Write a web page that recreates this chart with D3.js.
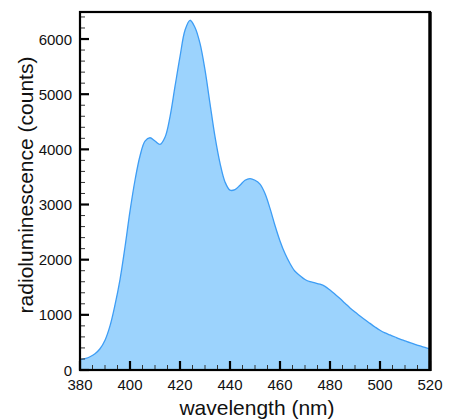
<!DOCTYPE html>
<html>
<head>
<meta charset="utf-8">
<script src="https://cdn.jsdelivr.net/npm/d3@7"></script>
<style>
  body { margin: 0; background: #fff; }
  svg text { font-family: "Liberation Sans", Arial, sans-serif; fill: #111; }
</style>
</head>
<body>
<svg id="chart" width="449" height="419"></svg>
<script>
// spectrum, every 2 nm
const wavelength = [380, 382, 384, 386, 388, 390, 392, 394, 396, 398,
  400, 402, 404, 406, 408, 410, 412, 414, 416, 418,
  420, 422, 424, 426, 428, 430, 432, 434, 436, 438,
  440, 442, 444, 446, 448, 450, 452, 454, 456, 458,
  460, 462, 464, 466, 468, 470, 472, 474, 476, 478,
  480, 482, 484, 486, 488, 490, 492, 494, 496, 498,
  500, 502, 504, 506, 508, 510, 512, 514, 516, 518, 520];
const counts = [180, 205, 240, 295, 385, 540, 800, 1180, 1640, 2230,
  2880, 3440, 3880, 4150, 4210, 4150, 4090, 4220, 4590, 5140,
  5680, 6160, 6340, 6210, 5920, 5440, 4830, 4230, 3750, 3410,
  3260, 3270, 3350, 3440, 3470, 3440, 3370, 3200, 2930, 2620,
  2340, 2110, 1930, 1790, 1710, 1640, 1600, 1580, 1555, 1515,
  1450, 1375, 1295, 1210, 1125, 1050, 980, 910, 845, 780,
  720, 672, 635, 598, 560, 528, 495, 465, 437, 410, 380];

const xTicks = [380, 400, 420, 440, 460, 480, 500, 520];
const yTicks = [0, 1000, 2000, 3000, 4000, 5000, 6000];

const svg = d3.select("#chart");
const plotL = 80, plotR = 430, plotT = 12, plotB = 370;

const x = d3.scaleLinear().domain([380, 520]).range([plotL, plotR]);
const y = d3.scaleLinear().domain([0, 6490]).range([plotB, plotT]);

const data = wavelength.map((w, i) => ({ w: w, c: counts[i] }));

svg.append("clipPath").attr("id", "plot")
  .append("rect")
  .attr("x", plotL).attr("y", plotT)
  .attr("width", plotR - plotL).attr("height", plotB - plotT);

const area = d3.area()
  .x(d => x(d.w))
  .y0(plotB)
  .y1(d => y(d.c))
  .curve(d3.curveCatmullRom);

const line = d3.line()
  .x(d => x(d.w))
  .y(d => y(d.c))
  .curve(d3.curveCatmullRom);

const g = svg.append("g").attr("clip-path", "url(#plot)");

g.append("path")
  .datum(data)
  .attr("d", area)
  .attr("fill", "#9cd3fd");

g.append("path")
  .datum(data)
  .attr("d", line)
  .attr("fill", "none")
  .attr("stroke", "#3d9df5")
  .attr("stroke-width", 1.3);

// minor ticks (inside the frame)
const xMinor = d3.range(380, 521, 5).filter(v => !xTicks.includes(v));
const yMinor = d3.range(0, 6490, 200).filter(v => !yTicks.includes(v));

svg.append("g").selectAll("line")
  .data(xMinor)
  .join("line")
  .attr("x1", d => x(d)).attr("x2", d => x(d))
  .attr("y1", plotB).attr("y2", plotB - 5)
  .attr("stroke", "#333").attr("stroke-width", 1);

svg.append("g").selectAll("line")
  .data(yMinor)
  .join("line")
  .attr("x1", plotL).attr("x2", plotL + 5)
  .attr("y1", d => y(d)).attr("y2", d => y(d))
  .attr("stroke", "#333").attr("stroke-width", 1);

// major ticks
svg.append("g").selectAll("line")
  .data(xTicks)
  .join("line")
  .attr("x1", d => x(d)).attr("x2", d => x(d))
  .attr("y1", plotB).attr("y2", plotB - 9)
  .attr("stroke", "#000").attr("stroke-width", 2.2);

svg.append("g").selectAll("line")
  .data(yTicks)
  .join("line")
  .attr("x1", plotL).attr("x2", plotL + 9)
  .attr("y1", d => y(d)).attr("y2", d => y(d))
  .attr("stroke", "#000").attr("stroke-width", 2.2);

// frame
svg.append("rect")
  .attr("x", plotL).attr("y", plotT)
  .attr("width", plotR - plotL).attr("height", plotB - plotT)
  .attr("fill", "none")
  .attr("stroke", "#000")
  .attr("stroke-width", 2.2);

svg.append("line")
  .attr("x1", plotR).attr("x2", plotR)
  .attr("y1", plotT).attr("y2", plotB + 1)
  .attr("stroke", "#000").attr("stroke-width", 3.4);

// tick labels
svg.append("g").selectAll("text")
  .data(xTicks)
  .join("text")
  .attr("x", d => x(d))
  .attr("y", plotB + 20)
  .attr("text-anchor", "middle")
  .attr("font-size", 15)
  .text(d => d);

svg.append("g").selectAll("text")
  .data(yTicks)
  .join("text")
  .attr("x", plotL - 8)
  .attr("y", d => y(d) + 5.5)
  .attr("text-anchor", "end")
  .attr("font-size", 15)
  .text(d => d);

// axis titles
svg.append("text")
  .attr("x", (plotL + plotR) / 2 + 2)
  .attr("y", 415)
  .attr("text-anchor", "middle")
  .attr("font-size", 21)
  .text("wavelength (nm)");

svg.append("text")
  .attr("transform", `translate(33,${(plotT + plotB) / 2 - 6}) rotate(-90)`)
  .attr("text-anchor", "middle")
  .attr("font-size", 21)
  .text("radioluminescence (counts)");
</script>
</body>
</html>
